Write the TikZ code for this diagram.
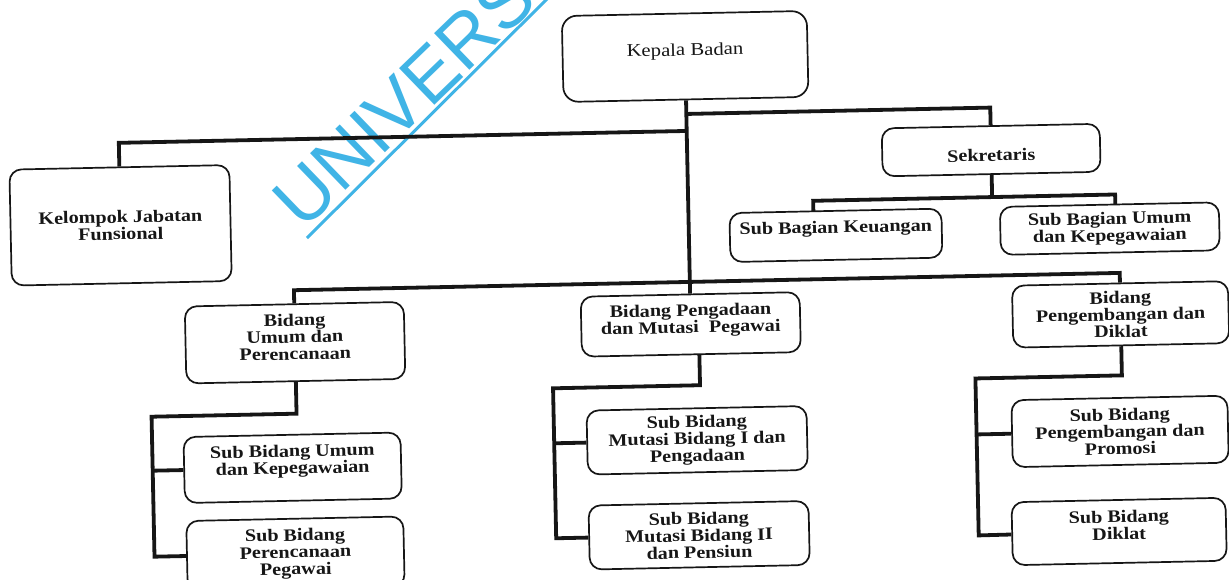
\documentclass[tikz,border=0pt]{standalone}
\usepackage{fontspec}
\setmainfont{Liberation Serif}[FakeStretch=1.15]
\newfontfamily\wmfont{Liberation Sans}
\usetikzlibrary{backgrounds}
\definecolor{ink}{RGB}{22,22,22}
\definecolor{wmblue}{RGB}{64,180,230}
\begin{document}
\begin{tikzpicture}[x=1pt,y=-1pt,
  box/.style={draw=ink, line width=1.7pt, rounded corners=12pt, fill=white,
    align=center, inner sep=2pt, text=ink, transform shape,
    font=\fontsize{17.5}{17}\selectfont\bfseries},
  headbox/.style={box, rounded corners=15pt,
    font=\fontsize{18}{17}\selectfont\mdseries},
  conn/.style={draw=ink, line width=3.8pt},
  wm/.style={anchor=base west, rotate=44, inner sep=0pt, text=wmblue,
    font=\wmfont\fontsize{74}{74}\selectfont},
  wmline/.style={draw=wmblue, line width=3pt}]
\useasboundingbox (0,0) rectangle (1229,579);

% the whole chart sits slightly tilted on the page
\begin{scope}[rotate around={1.2:(614,290)}]
  % head and staff units
  \node[headbox, minimum width=245pt, minimum height=86pt] (kepala) at (690,58)
    {Kepala Badan\\[-3pt]\mbox{}};
  \node[box, minimum width=220pt, minimum height=116pt] (kelompok) at (122,215)
    {Kelompok Jabatan\\Funsional};
  \node[box, minimum width=218pt, minimum height=48pt,
        text height=26pt, text depth=4pt] (sekretaris) at (994,158)
    {Sekretaris};
  \node[box, minimum width=212pt, minimum height=49pt] (keuangan) at (837,240)
    {Sub Bagian Keuangan\\\mbox{}};
  \node[box, minimum width=219pt, minimum height=48pt] (subumum) at (1111,239)
    {Sub Bagian Umum\\dan Kepegawaian};

  % divisions
  \node[box, minimum width=219pt, minimum height=77pt] (bidumum) at (294,336)
    {Bidang\\Umum dan\\Perencanaan\\[-5pt]\mbox{}};
  \node[box, minimum width=219pt, minimum height=60pt] (bidpeng) at (690,326)
    {Bidang Pengadaan\\dan Mutasi\ \ Pegawai\\[-5pt]\mbox{}};
  \node[box, minimum width=216pt, minimum height=62pt] (bidkemb) at (1120,325)
    {Bidang\\Pengembangan dan\\Diklat};

  % sub-divisions
  \node[box, minimum width=217pt, minimum height=66pt] (sbumum) at (289,461)
    {Sub Bidang Umum\\dan Kepegawaian\\\mbox{}};
  \node[box, minimum width=217pt, minimum height=70pt] (sbrenc) at (290,547)
    {Sub Bidang\\Perencanaan\\Pegawai};
  \node[box, minimum width=220pt, minimum height=64pt] (sbmut1) at (694,442)
    {Sub Bidang\\Mutasi Bidang I dan\\Pengadaan};
  \node[box, minimum width=220pt, minimum height=64pt] (sbmut2) at (694,537)
    {Sub Bidang\\Mutasi Bidang II\\dan Pensiun};
  \node[box, minimum width=216pt, minimum height=67pt] (sbprom) at (1117,442)
    {Sub Bidang\\Pengembangan dan\\Promosi};
  \node[box, minimum width=214pt, minimum height=63pt] (sbdik) at (1114,542)
    {Sub Bidang\\Diklat\\[-4pt]\mbox{}};

  % bends of the connecting lines
  \coordinate (sekbus-l) at (690,115.5);
  \coordinate (sekbus-r) at (994,115.5);
  \coordinate (kelbus-r) at (690,132.5);
  \coordinate (kelbus-l) at (122,132.5);
  \coordinate (sekdown) at (994,205);
  \coordinate (keu-l) at (815,205);
  \coordinate (keu-in) at (815,240);
  \coordinate (umb-r) at (1117,205);
  \coordinate (umb-in) at (1117,239);
  \coordinate (bus-l) at (294,283.5);
  \coordinate (bus-r) at (1120,283.5);
  \coordinate (um-turn) at (294,407);
  \coordinate (um-l) at (149,407);
  \coordinate (um-s1) at (149,461);
  \coordinate (um-s2) at (149,547);
  \coordinate (pg-top) at (698,326);
  \coordinate (pg-turn) at (698,387);
  \coordinate (pg-l) at (551,387);
  \coordinate (pg-s1) at (551,442);
  \coordinate (pg-s2) at (551,537);
  \coordinate (kb-turn) at (1120,386);
  \coordinate (kb-l) at (973.5,386);
  \coordinate (kb-s1) at (973.5,442);
  \coordinate (kb-s2) at (973.5,543);
\end{scope}

\begin{scope}[on background layer]
  \fill[white] (0,0) rectangle (1229,579);
  % watermark
  \node[wm] (wmark) at (303,232) {UNIVERS};
  \coordinate (wm-a) at (307,238);
  \coordinate (wm-b) at (552,-6);
  \draw[wmline] (wm-a) -- (wm-b);

  % connecting lines (their ends are hidden under the boxes)
  \draw[conn] (kepala) -- (bidpeng);
  \draw[conn] (sekbus-l) -- (sekbus-r) -- (sekretaris);
  \draw[conn] (kelbus-r) -- (kelbus-l) -- (kelompok);
  \draw[conn] (sekretaris) -- (sekdown);
  \draw[conn] (keu-in) -- (keu-l) -- (umb-r) -- (umb-in);
  \draw[conn] (bidumum) -- (bus-l) -- (bus-r) -- (bidkemb);
  \draw[conn] (bidumum) -- (um-turn) -- (um-l) -- (um-s2) -- (sbrenc);
  \draw[conn] (um-s1) -- (sbumum);
  \draw[conn] (pg-top) -- (pg-turn) -- (pg-l) -- (pg-s2) -- (sbmut2);
  \draw[conn] (pg-s1) -- (sbmut1);
  \draw[conn] (bidkemb) -- (kb-turn) -- (kb-l) -- (kb-s2) -- (sbdik);
  \draw[conn] (kb-s1) -- (sbprom);
\end{scope}
\end{tikzpicture}
\end{document}
